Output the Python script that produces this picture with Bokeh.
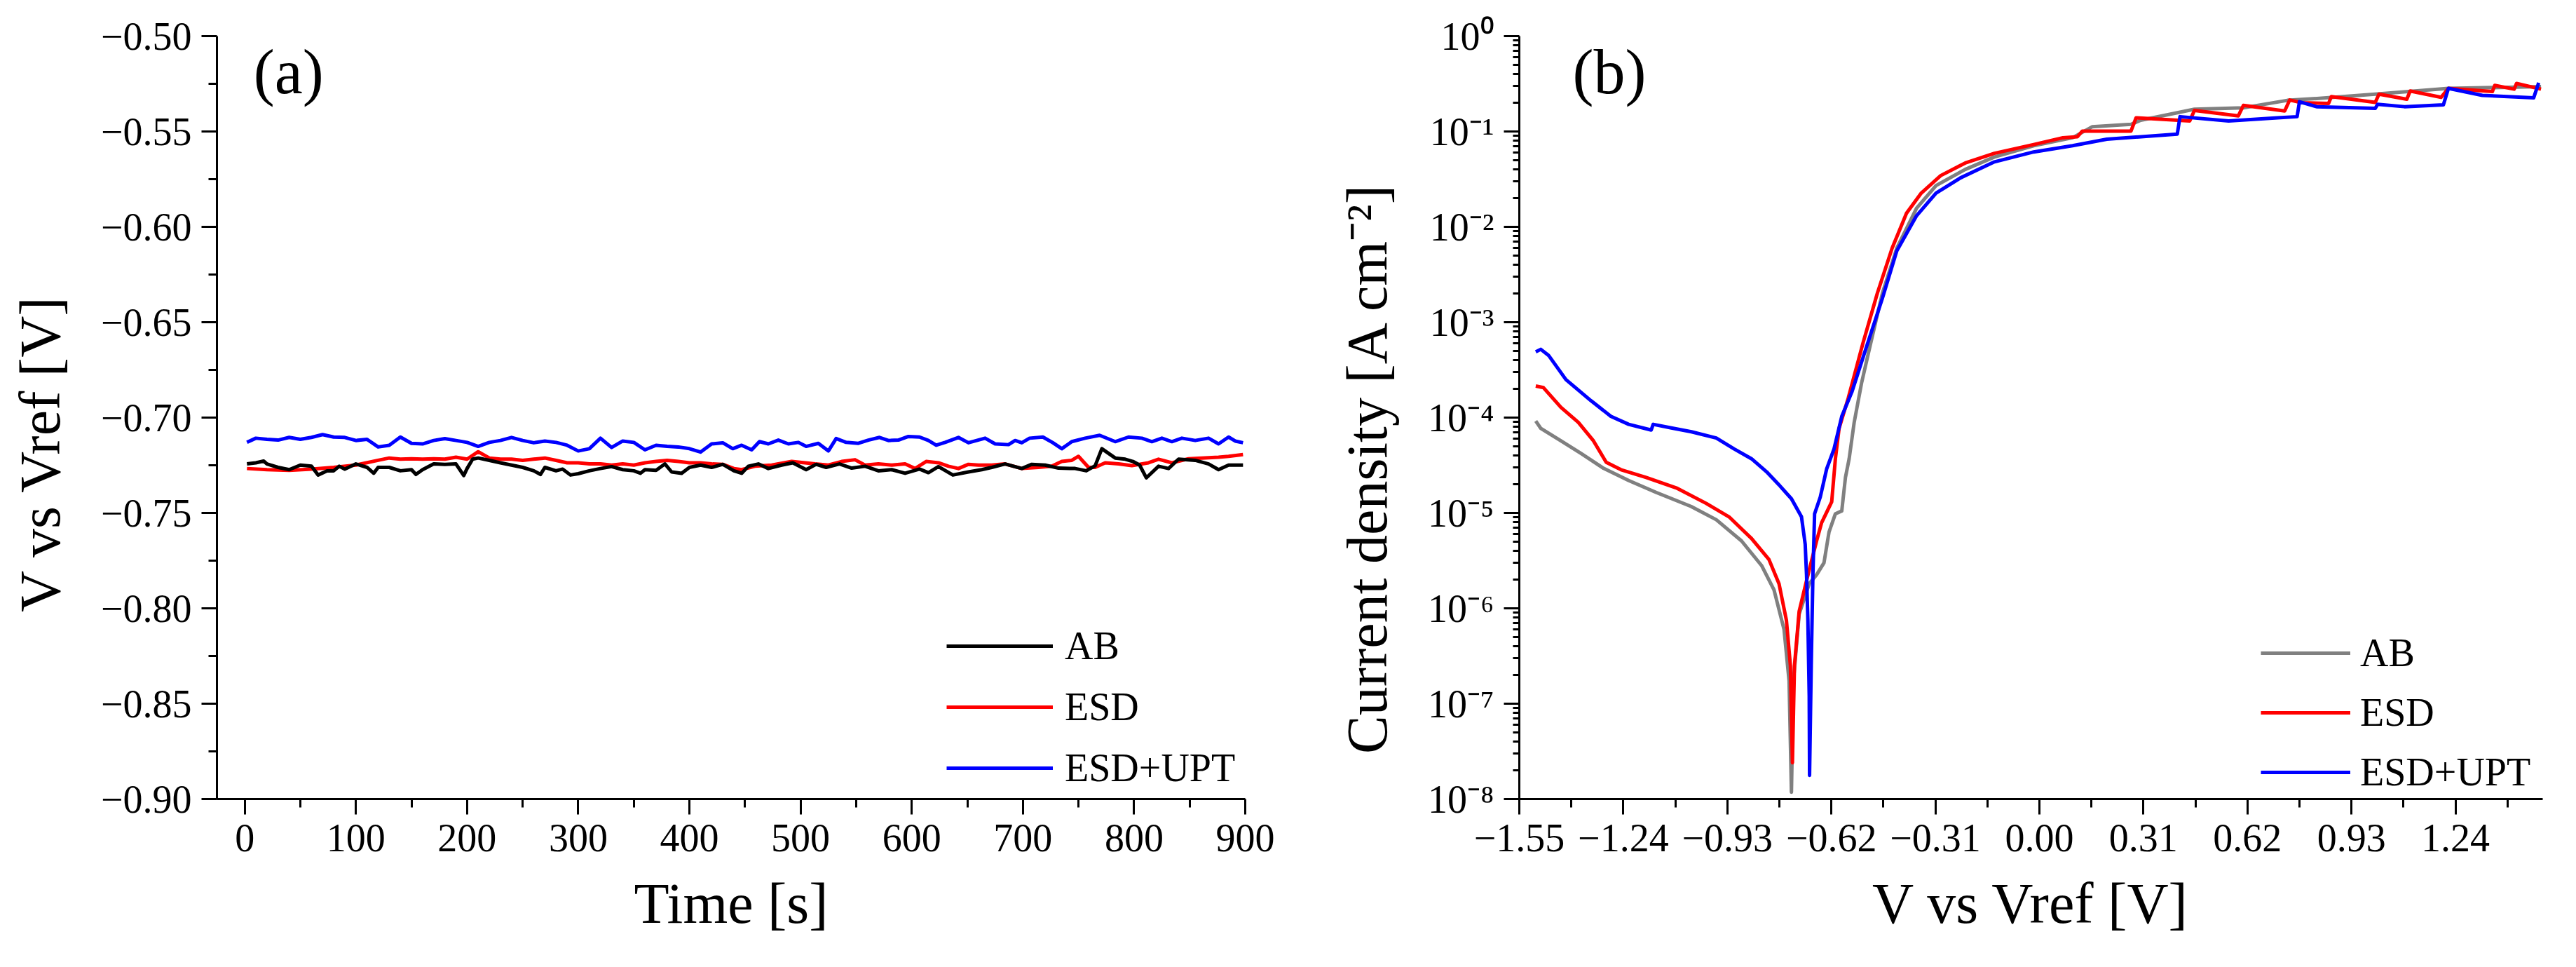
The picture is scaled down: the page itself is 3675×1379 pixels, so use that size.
from bokeh.plotting import figure
from bokeh.models import (Range1d, FixedTicker, CustomJSTickFormatter, Legend, LegendItem, Label)
from bokeh.layouts import row
from bokeh.embed import file_html
from bokeh.resources import INLINE

# ---- panel (a): open circuit potential vs time ----
t_ab = [2, 10, 17, 20, 30, 40, 50, 60, 66, 74, 80, 85, 90, 100, 110, 116, 120, 130, 140, 150,
        154, 160, 170, 180, 190, 197, 200, 205, 210, 220, 230, 240, 250, 260, 266, 270, 280, 286, 293, 300,
        310, 320, 330, 340, 350, 356, 360, 370, 378, 384, 393, 400, 410, 420, 430, 440,
        447, 453, 462, 471, 483, 493, 505, 514, 523, 535, 546, 558, 570, 582, 594, 607, 615, 624, 637, 651,
        663, 672, 684, 699, 708, 720, 732, 747, 757, 765, 771, 783, 792, 799, 805, 811, 822, 831, 840, 855,
        867, 876, 885, 898]
v_ab = [-0.7243, -0.7237, -0.7228, -0.7243, -0.7261, -0.7273, -0.7249, -0.7255, -0.7301, -0.7279,
        -0.7279, -0.7255, -0.7270, -0.7243, -0.7261, -0.7292, -0.7261, -0.7261, -0.7279, -0.7273,
        -0.7298, -0.7273, -0.7243, -0.7245, -0.7243, -0.7304, -0.7267, -0.7218, -0.7212, -0.7224,
        -0.7237, -0.7249, -0.7261, -0.7279, -0.7298, -0.7261, -0.7279, -0.7270, -0.7301, -0.7294,
        -0.7279, -0.7267, -0.7257, -0.7273, -0.7279, -0.7292, -0.7273, -0.7277, -0.7243, -0.7285,
        -0.7292, -0.7261, -0.7249, -0.7261, -0.7245, -0.7279,
        -0.7292, -0.7255, -0.7243, -0.7267, -0.7249, -0.7237, -0.7273, -0.7245, -0.7261, -0.7243,
        -0.7265, -0.7255, -0.7279, -0.7273, -0.7292, -0.7270, -0.7289, -0.7257, -0.7301, -0.7285,
        -0.7273, -0.7261, -0.7243, -0.7267, -0.7245, -0.7249, -0.7265, -0.7267, -0.7279, -0.7252,
        -0.7163, -0.7212, -0.7218, -0.7230, -0.7249, -0.7316, -0.7255, -0.7267, -0.7218, -0.7224,
        -0.7243, -0.7273, -0.7249, -0.7249]

t_esd = [2, 20, 40, 60, 80, 100, 120, 130, 140, 150, 160, 170, 180, 190, 200, 210, 220, 230, 240, 250,
         260, 270, 280, 290, 300, 310, 320, 330, 340, 350, 360, 370, 380, 390, 400, 410, 420, 430,
         440, 447, 459, 474, 492, 504, 513, 525, 537, 549, 558, 570, 582, 594, 603, 613, 624, 633, 642, 651,
         660, 672, 684, 699, 714, 726, 735, 744, 750, 759, 765, 774, 786, 798, 813, 822, 834, 849, 861, 876,
         885, 898]
v_esd = [-0.7267, -0.7273, -0.7277, -0.7270, -0.7261, -0.7249, -0.7224, -0.7212, -0.7218, -0.7216,
         -0.7218, -0.7216, -0.7218, -0.7208, -0.7218, -0.7179, -0.7212, -0.7218, -0.7218, -0.7224,
         -0.7218, -0.7212, -0.7224, -0.7237, -0.7237, -0.7243, -0.7243, -0.7249, -0.7243, -0.7249,
         -0.7237, -0.7230, -0.7224, -0.7230, -0.7237, -0.7237, -0.7243, -0.7245,
         -0.7267, -0.7273, -0.7255, -0.7249, -0.7230, -0.7237, -0.7243, -0.7249, -0.7230, -0.7221,
         -0.7249, -0.7243, -0.7249, -0.7243, -0.7267, -0.7230, -0.7237, -0.7255, -0.7267, -0.7245,
         -0.7249, -0.7249, -0.7243, -0.7267, -0.7261, -0.7255, -0.7230, -0.7224, -0.7203, -0.7261,
         -0.7261, -0.7237, -0.7243, -0.7252, -0.7237, -0.7218, -0.7237, -0.7216, -0.7212, -0.7208,
         -0.7203, -0.7194]

t_upt = [2, 10, 20, 30, 40, 50, 60, 70, 80, 90, 100, 110, 120, 130, 140, 150, 160, 170, 180, 190,
         200, 210, 220, 230, 240, 250, 260, 270, 280, 290, 300, 310, 320, 330, 340, 350, 360, 370, 380, 390,
         400, 410, 420, 430, 439, 447, 456, 463, 471, 480, 489, 498, 505, 516, 525, 532, 541, 552, 561, 571,
         579, 588, 597, 607, 615, 622, 630, 642, 651, 666, 675, 687, 693, 699, 706, 718, 727, 735, 744, 756,
         769, 783, 795, 807, 816, 825, 834, 843, 855, 867, 876, 885, 891, 898]
v_upt = [-0.7130, -0.7108, -0.7114, -0.7118, -0.7104, -0.7114, -0.7104, -0.7089, -0.7102, -0.7104,
         -0.7120, -0.7114, -0.7154, -0.7145, -0.7102, -0.7135, -0.7138, -0.7120, -0.7110, -0.7120,
         -0.7130, -0.7151, -0.7130, -0.7120, -0.7104, -0.7120, -0.7132, -0.7123, -0.7130, -0.7145,
         -0.7175, -0.7163, -0.7108, -0.7157, -0.7123, -0.7130, -0.7169, -0.7145, -0.7151, -0.7154,
         -0.7163, -0.7181, -0.7138, -0.7132, -0.7163, -0.7145, -0.7169, -0.7126, -0.7138, -0.7118,
         -0.7138, -0.7130, -0.7151, -0.7135, -0.7175, -0.7110, -0.7130, -0.7135, -0.7118, -0.7104,
         -0.7120, -0.7118, -0.7099, -0.7102, -0.7120, -0.7145, -0.7130, -0.7104, -0.7132, -0.7108,
         -0.7138, -0.7142, -0.7120, -0.7132, -0.7108, -0.7102, -0.7132, -0.7163, -0.7126, -0.7108,
         -0.7093, -0.7126, -0.7102, -0.7108, -0.7126, -0.7108, -0.7126, -0.7108, -0.7120, -0.7108,
         -0.7138, -0.7102, -0.7123, -0.7132]

time_ticks = [0, 100, 200, 300, 400, 500, 600, 700, 800, 900]
time_minor = [50, 150, 250, 350, 450, 550, 650, 750, 850]
pot_ticks = [-0.90, -0.85, -0.80, -0.75, -0.70, -0.65, -0.60, -0.55, -0.50]
pot_minor = [-0.875, -0.825, -0.775, -0.725, -0.675, -0.625, -0.575, -0.525]

# ---- panel (b): polarization curves ----
e_ab = [-1.501, -1.486, -1.426, -1.366, -1.299, -1.224, -1.142, -1.038, -0.963, -0.888,
        -0.828, -0.791, -0.761, -0.746, -0.739, -0.733, -0.716, -0.686, -0.664, -0.642,
        -0.627, -0.608, -0.589, -0.578, -0.567, -0.552, -0.530, -0.507, -0.468, -0.425,
        -0.366, -0.308, -0.221, -0.134, -0.017, 0.099, 0.157, 0.273, 0.302, 0.462,
        0.608, 0.739, 0.855, 1.001, 1.219, 1.495]
i_ab = [9.2e-5, 7.7e-5, 5.7e-5, 4.2e-5, 2.94e-5, 2.19e-5, 1.64e-5, 1.17e-5, 8.5e-6, 5.1e-6,
        2.81e-6, 1.56e-6, 6.0e-7, 1.73e-7, 1.18e-8, 1.73e-7, 8.7e-7, 1.81e-6, 2.25e-6, 3.0e-6,
        6.3e-6, 9.8e-6, 1.05e-5, 2.36e-5, 3.7e-5, 8.9e-5, 2.3e-4, 5.2e-4, 2.01e-3, 5.97e-3,
        1.57e-2, 2.71e-2, 4.0e-2, 5.4e-2, 7.1e-2, 8.6e-2, 0.112, 0.119, 0.131, 0.171,
        0.177, 0.212, 0.225, 0.246, 0.283, 0.295]

e_esd = [-1.501, -1.478, -1.426, -1.374, -1.329, -1.291, -1.247, -1.172, -1.082, -0.993,
         -0.925, -0.858, -0.806, -0.776, -0.754, -0.742, -0.736, -0.730, -0.716, -0.694,
         -0.664, -0.649, -0.619, -0.608, -0.597, -0.570, -0.526, -0.483, -0.439, -0.396,
         -0.352, -0.294, -0.221, -0.134, -0.017, 0.070, 0.113, 0.128, 0.273, 0.288,
         0.448, 0.462, 0.593, 0.608, 0.731, 0.746, 0.782, 0.862, 0.870, 1.001,
         1.012, 1.095, 1.105, 1.197, 1.219, 1.350, 1.357, 1.415, 1.422, 1.495]
i_esd = [2.14e-4, 2.06e-4, 1.28e-4, 8.9e-5, 5.7e-5, 3.4e-5, 2.84e-5, 2.36e-5, 1.83e-5, 1.26e-5,
         9.1e-6, 5.4e-6, 3.25e-6, 1.81e-6, 7.5e-7, 2.5e-7, 2.4e-8, 2.5e-7, 9.3e-7, 1.95e-6,
         5.1e-6, 7.9e-6, 1.31e-5, 3.7e-5, 7.7e-5, 1.59e-4, 6.0e-4, 2.01e-3, 5.97e-3, 1.39e-2,
         2.26e-2, 3.45e-2, 4.67e-2, 5.9e-2, 7.3e-2, 8.6e-2, 8.8e-2, 0.101, 0.101, 0.139,
         0.129, 0.166, 0.146, 0.188, 0.164, 0.214, 0.200, 0.197, 0.232, 0.202,
         0.246, 0.218, 0.266, 0.228, 0.283, 0.262, 0.304, 0.278, 0.319, 0.278]

e_upt = [-1.501, -1.486, -1.463, -1.411, -1.336, -1.277, -1.224, -1.157, -1.151, -1.097,
         -1.037, -0.963, -0.910, -0.858, -0.813, -0.776, -0.739, -0.709, -0.698, -0.694,
         -0.690, -0.686, -0.685, -0.680, -0.675, -0.670, -0.653, -0.634, -0.612, -0.589,
         -0.559, -0.512, -0.468, -0.425, -0.366, -0.308, -0.236, -0.134, -0.017, 0.099,
         0.201, 0.411, 0.419, 0.564, 0.710, 0.768, 0.775, 0.826, 1.001, 1.008,
         1.088, 1.204, 1.219, 1.320, 1.473, 1.488]
i_upt = [4.9e-4, 5.2e-4, 4.5e-4, 2.5e-4, 1.5e-4, 1.03e-4, 8.5e-5, 7.4e-5, 8.5e-5, 7.8e-5,
         7.1e-5, 6.1e-5, 4.7e-5, 3.7e-5, 2.7e-5, 1.97e-5, 1.41e-5, 9.1e-6, 4.7e-6, 2.25e-6,
         7.5e-7, 1.2e-7, 1.77e-8, 2.5e-7, 2.25e-6, 9.8e-6, 1.47e-5, 2.9e-5, 4.7e-5, 1.03e-4,
         1.85e-4, 6.0e-4, 1.78e-3, 5.6e-3, 1.31e-2, 2.26e-2, 3.25e-2, 4.8e-2, 6.1e-2, 7.1e-2,
         8.3e-2, 9.4e-2, 0.143, 0.129, 0.139, 0.143, 0.205, 0.182, 0.175, 0.193,
         0.182, 0.190, 0.283, 0.239, 0.225, 0.324]

volt_ticks = [-1.55, -1.24, -0.93, -0.62, -0.31, 0.00, 0.31, 0.62, 0.93, 1.24]
volt_minor = [-1.395, -1.085, -0.775, -0.465, -0.155, 0.155, 0.465, 0.775, 1.085, 1.395]
decades = [1e-8, 1e-7, 1e-6, 1e-5, 1e-4, 1e-3, 1e-2, 1e-1, 1e0]
decade_minor = [k * d for d in decades[:-1] for k in range(2, 10)]

FONT = "Liberation Serif"
W_A, W_B, H = 1840, 1819, 1363
LW = 5
NBSP = "\u00a0"


def style_axes(p):
    for ax in (p.xaxis, p.yaxis):
        ax.axis_line_width = 3
        ax.major_tick_line_width = 3
        ax.minor_tick_line_width = 3
        ax.major_tick_in = 0
        ax.minor_tick_in = 0
        ax.major_tick_out = 22
        ax.minor_tick_out = 12
        ax.major_label_text_font = FONT
        ax.major_label_text_font_size = "56px"
        ax.major_label_text_color = "black"
        ax.axis_label_text_font = FONT
        ax.axis_label_text_font_size = "82px"
        ax.axis_label_text_font_style = "normal"
        ax.axis_label_text_color = "black"
        ax.axis_line_color = "black"
        ax.major_tick_line_color = "black"
        ax.minor_tick_line_color = "black"
    p.xaxis.major_label_standoff = 14
    p.yaxis.major_label_standoff = 14
    p.xaxis.axis_label_standoff = 26
    p.yaxis.axis_label_standoff = 38
    p.grid.grid_line_color = None
    p.outline_line_color = None
    p.background_fill_color = "white"
    p.border_fill_color = "white"


def make_legend(p, items, loc, spacing, glyph_w, standoff):
    legend = Legend(items=items, location=loc, orientation="vertical",
                    border_line_color=None, background_fill_alpha=0,
                    label_text_font=FONT, label_text_font_size="56px", label_text_color="black",
                    glyph_width=glyph_w, glyph_height=62, label_height=62,
                    label_standoff=standoff, spacing=spacing, padding=0, margin=0)
    p.add_layout(legend)
    return legend


# ---- figure (a) ----
pa = figure(width=W_A, height=H, output_backend="svg", toolbar_location=None, tools="",
            x_range=Range1d(-25, 900), y_range=Range1d(-0.90, -0.50),
            min_border_left=309, min_border_right=64, min_border_top=51, min_border_bottom=224)
r_esd = pa.line(t_esd, v_esd, line_color="#ff0000", line_width=LW, line_join="round")
r_upt = pa.line(t_upt, v_upt, line_color="#0000ff", line_width=LW, line_join="round")
r_ab = pa.line(t_ab, v_ab, line_color="#000000", line_width=LW, line_join="round")
style_axes(pa)
pa.xaxis.ticker = FixedTicker(ticks=time_ticks, minor_ticks=time_minor)
pa.yaxis.ticker = FixedTicker(ticks=pot_ticks, minor_ticks=pot_minor)
pa.yaxis.formatter = CustomJSTickFormatter(
    code="return (tick < 0 ? '\u2212' : '') + Math.abs(tick).toFixed(2);")
pa.xaxis.axis_label = "Time [s]"
# trailing no-break spaces push the rotated label a little lower, as in the original
pa.yaxis.axis_label = "V vs Vref [V]" + NBSP * 5
make_legend(pa, [LegendItem(label="AB", renderers=[r_ab]),
                 LegendItem(label="ESD", renderers=[r_esd]),
                 LegendItem(label="ESD+UPT", renderers=[r_upt])], (1041, 12), 23, 152, 17)
pa.add_layout(Label(x=8, y=-0.5188, text="(a)", text_font=FONT, text_font_size="90px",
                    text_color="black", text_baseline="alphabetic"))

# ---- figure (b) ----
pb = figure(width=W_B, height=H, output_backend="svg", toolbar_location=None, tools="",
            y_axis_type="log",
            x_range=Range1d(-1.55, 1.50), y_range=Range1d(1e-8, 1e0),
            min_border_left=327, min_border_right=32, min_border_top=51, min_border_bottom=224)
r2_ab = pb.line(e_ab, i_ab, line_color="#808080", line_width=LW, line_join="round")
r2_esd = pb.line(e_esd, i_esd, line_color="#ff0000", line_width=LW, line_join="round")
r2_upt = pb.line(e_upt, i_upt, line_color="#0000ff", line_width=LW, line_join="round")
style_axes(pb)
pb.yaxis.minor_tick_out = 9
pb.xaxis.ticker = FixedTicker(ticks=volt_ticks, minor_ticks=volt_minor)
pb.yaxis.ticker = FixedTicker(ticks=decades, minor_ticks=decade_minor)
pb.xaxis.formatter = CustomJSTickFormatter(
    code="return (tick < -0.001 ? '\u2212' : '') + Math.abs(tick).toFixed(2);")
pb.yaxis.formatter = CustomJSTickFormatter(code="""
    const sup = {'-': '\u207b', '0': '\u2070', '1': '\u00b9', '2': '\u00b2', '3': '\u00b3',
                 '4': '\u2074', '5': '\u2075', '6': '\u2076', '7': '\u2077', '8': '\u2078', '9': '\u2079'};
    const e = Math.round(Math.log10(tick));
    return '10' + String(e).split('').map(c => sup[c]).join('');
""")
pb.xaxis.axis_label = "V vs Vref [V]"
pb.yaxis.axis_label = "Current density [A cm\u207b\u00b2]" + NBSP * 7
make_legend(pb, [LegendItem(label="AB", renderers=[r2_ab]),
                 LegendItem(label="ESD", renderers=[r2_esd]),
                 LegendItem(label="ESD+UPT", renderers=[r2_upt])], (1058, 6), 21, 128, 14)
pb.add_layout(Label(x=-1.391, y=0.42, text="(b)", text_font=FONT, text_font_size="90px",
                    text_color="black", text_baseline="alphabetic"))

layout = row(pa, pb)
open("out.html", "w").write(file_html(layout, INLINE))
